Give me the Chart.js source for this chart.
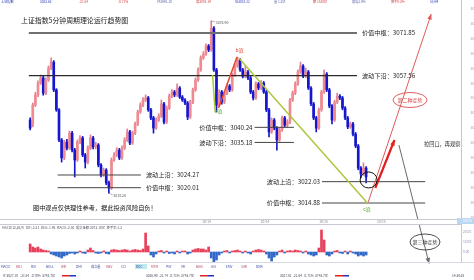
<!DOCTYPE html>
<html><head><meta charset="utf-8">
<script src="https://cdn.jsdelivr.net/npm/chart.js@4.4.1/dist/chart.umd.min.js"></script>
<style>
html,body{margin:0;padding:0;background:#fff;}
#wrap{position:relative;width:474px;height:280px;overflow:hidden;}
canvas{display:block;}
</style></head><body>
<div id="wrap"><canvas id="c" width="474" height="280"></canvas></div>
<script>
// 5分钟K线（价格读自截图）
const opens = [3042.7,3041.0,3047.7,3051.1,3055.1,3056.8,3051.7,3056.1,3060.1,3062.1,
3052.8,3046.1,3036.0,3030.0,3035.3,3033.3,3038.3,3032.6,3029.3,3035.3,
3036.7,3031.0,3028.6,3033.3,3036.7,3033.7,3034.3,3027.6,3024.3,3025.9,
3021.6,3019.9,3029.3,3031.0,3032.6,3030.0,3033.3,3036.0,3038.7,3035.0,
3038.3,3041.4,3045.4,3047.7,3049.4,3050.1,3046.1,3043.4,3040.0,3042.7,
3044.0,3048.1,3042.0,3046.7,3050.7,3052.1,3051.1,3053.4,3050.4,3049.4,
3048.4,3043.7,3048.7,3052.8,3056.1,3059.5,3063.5,3064.8,3067.5,3066.2,
3073.5,3059.5,3047.7,3052.1,3048.7,3051.7,3054.1,3052.8,3057.8,3060.8,
3062.8,3059.5,3057.4,3058.8,3056.8,3052.1,3050.1,3054.8,3053.4,3055.1,
3052.1,3046.1,3038.7,3042.7,3040.0,3036.0,3039.4,3043.4,3041.0,3042.0,
3049.4,3051.7,3054.8,3058.8,3060.8,3057.4,3058.8,3053.4,3048.1,3043.4,
3040.0,3046.1,3052.1,3058.1,3052.8,3047.4,3042.7,3048.7,3050.7,3050.1,
3046.7,3043.4,3040.4,3041.4,3038.0,3034.0,3026.6,3024.6,3026.6];
const closes = [3040.0,3047.7,3051.1,3055.1,3056.8,3051.7,3056.1,3060.1,3062.1,3052.8,
3046.1,3036.0,3030.0,3035.3,3033.3,3038.3,3032.6,3029.3,3035.3,3036.7,
3031.0,3028.6,3033.3,3036.7,3033.7,3034.3,3027.6,3024.3,3025.9,3021.6,
3019.9,3029.3,3031.0,3032.6,3030.0,3033.3,3036.0,3038.7,3035.0,3038.3,
3041.4,3045.4,3047.7,3049.4,3050.1,3046.1,3043.4,3040.0,3042.7,3044.0,
3048.1,3042.0,3046.7,3050.7,3052.1,3051.1,3053.4,3050.4,3049.4,3048.4,
3043.7,3048.7,3052.8,3056.1,3059.5,3063.5,3064.8,3067.5,3066.2,3073.5,
3059.5,3047.7,3052.1,3048.7,3051.7,3054.1,3052.8,3057.8,3060.8,3062.8,
3059.5,3057.4,3058.8,3056.8,3052.1,3050.1,3054.8,3053.4,3055.1,3052.1,
3046.1,3038.7,3042.7,3040.0,3036.0,3039.4,3043.4,3041.0,3042.0,3049.4,
3051.7,3054.8,3058.8,3060.8,3057.4,3058.8,3053.4,3048.1,3043.4,3040.0,
3046.1,3052.1,3058.1,3052.8,3047.4,3042.7,3048.7,3050.7,3050.1,3046.7,
3043.4,3040.4,3041.4,3038.0,3034.0,3026.6,3024.6,3026.6,3023.6];
const highs = [3043.4,3048.4,3052.0,3055.8,3057.8,3057.4,3056.8,3060.8,3063.5,3062.6,
3053.2,3046.5,3036.5,3035.9,3036.2,3039.0,3038.9,3033.2,3036.0,3037.5,
3037.2,3031.5,3034.0,3037.7,3037.2,3035.2,3034.8,3028.1,3026.6,3026.4,
3022.2,3030.0,3031.8,3033.4,3033.2,3034.0,3036.8,3039.7,3039.2,3039.0,
3042.0,3046.0,3048.5,3050.2,3051.1,3050.6,3046.6,3043.9,3043.4,3044.8,
3049.4,3048.6,3047.4,3051.4,3052.9,3052.6,3054.8,3053.9,3050.9,3049.9,
3048.9,3049.3,3053.4,3056.8,3060.2,3064.2,3065.6,3068.2,3068.0,3075.9,
3074.0,3060.0,3052.8,3052.6,3052.4,3054.8,3054.6,3058.4,3061.5,3063.8,
3063.3,3060.0,3060.8,3059.3,3057.3,3052.6,3055.5,3055.3,3055.9,3055.6,
3052.6,3046.6,3043.4,3043.2,3040.5,3040.0,3044.0,3043.9,3042.8,3050.0,
3052.4,3055.5,3059.5,3062.1,3061.3,3060.1,3059.3,3053.9,3048.6,3043.9,
3046.7,3052.7,3059.5,3058.6,3053.3,3047.9,3049.3,3051.7,3051.2,3050.6,
3047.2,3043.9,3042.0,3041.9,3038.5,3034.5,3027.1,3028.3,3027.1];
const lows = [3039.4,3040.4,3047.2,3050.5,3054.6,3051.0,3051.2,3055.6,3059.6,3052.2,
3045.6,3035.4,3028.6,3029.4,3032.7,3032.8,3032.0,3023.6,3028.8,3034.8,
3030.4,3026.6,3028.0,3032.8,3033.0,3033.0,3027.0,3023.6,3023.8,3021.0,
3018.2,3019.4,3028.8,3030.4,3029.4,3029.5,3032.8,3035.5,3034.4,3034.5,
3037.8,3040.8,3044.9,3047.2,3048.9,3045.6,3042.8,3038.3,3039.5,3042.2,
3043.5,3041.4,3041.5,3046.2,3050.2,3050.5,3050.6,3049.9,3048.9,3047.8,
3042.8,3043.2,3048.2,3052.3,3055.6,3059.0,3063.0,3064.3,3065.6,3065.7,
3059.0,3045.4,3047.2,3048.0,3048.2,3051.2,3052.2,3052.3,3057.3,3060.3,
3059.0,3056.8,3056.9,3056.2,3051.5,3049.4,3049.6,3052.8,3052.9,3051.6,
3045.5,3037.0,3038.2,3039.4,3032.6,3035.5,3038.9,3040.4,3040.4,3041.5,
3048.9,3051.2,3054.3,3058.3,3056.9,3056.9,3052.9,3047.5,3042.8,3038.7,
3039.5,3045.6,3051.6,3052.2,3046.8,3041.4,3042.2,3048.2,3049.5,3046.1,
3042.8,3039.8,3039.9,3037.4,3033.4,3026.0,3023.3,3024.1,3021.6];
// 副图柱（红正蓝负）
const macd = [8,5,4,5,3,2,1.5,1,-2,-3,
-4,-5,-6,-4,-3,-1.5,-1,-2,-1,1,
-1,-1.5,2,4,1.5,-1,-1.5,-1,1,-1.5,
-2,2,2.5,2,1.5,2,2.5,2,1,2,
2.5,2,1.5,3,19,6,-3,-5,-2,1,
1.5,-1,1,-1.5,-1,-2,1,-1,1,1,
-2,-1,2,3,3.5,3,3,2,5,-6,
-10,-8,-3,-1,1,1.5,-1,1,1.5,2,
1,-1,1,-1,-2,1,2,2.5,2,1,
-2,-6,-9,-5,-3,1,2,-1,1,1.5,
1,2,1.5,1,-1,1,-2,-3,-4,-3,
4,22,12,-3,-4,-2,1,1.5,-1,-1.5,
1,-2,1,-1,-2,-4,-3,-4,-3];
const priceTicks = [3010,3015,3020,3025,3030,3035,3040,3045,3050,3055,3060,3065,3070,3075,3080];
const volTicks = [20,10,0];
const dateTicks = [67.2, 89.5, 111.8, 133.8];
const dateLabels = ["10/14","10/14","10/15","10/15"];

// 关键位
const levelNames  = ["价值中枢","波动下沿","价值中枢","波动下沿","波动上沿","价值中枢","波动上沿","价值中枢"];
const levelValues = [3071.85, 3057.56, 3040.24, 3035.18, 3024.27, 3020.01, 3022.03, 3014.88];
const levelSpans  = [[-0.5,124.5],[-0.5,124.5],[85.5,100.5],[85.5,100.5],[10.5,42.2],[10.5,42.2],[111.2,150.5],[111.2,150.5]];
const labelSide   = ["end","end","start","start","end","end","start","start"];

// 波浪连线 [索引, 价格]
const peakToA = [[69.5,3057.8],[70.5,3045.4]];
const aToB    = [[71.8,3046.7],[78.8,3063.8]];
const bToC    = [[79.5,3063.5],[128.5,3014.88]];
const cUp     = [[128.8,3015.2],[152.8,3078.2]];
const bounce  = [[131.5,3019.9],[138.8,3036.0]];
const third   = [[140.5,3034.3],[152.0,2994.6]];
const waveLabels = [["a浪",71.8,3045.6,"#5aa82a"],["b浪",79.8,3066.0,"#e04a3a"],["c浪",128.3,3012.8,"#5aa82a"]];

const F = '"Noto Sans CJK SC","Noto Sans",sans-serif';
const UP = "#ef8a8e", DOWN = "#1616cc";
const isUp = closes.map((c, i) => c >= opens[i]);
const pts = a => a.map(p => ({x: p[0], y: p[1]}));

const datasets = [
  {type:"bar", data: closes.map((_, i) => ({x:i, y:[lows[i], highs[i]]})), yAxisID:"y",
   barThickness:1, grouped:false, order:6,
   backgroundColor: isUp.map(u => u ? "#dd7f96" : DOWN)},
  {type:"bar", data: closes.map((c, i) => ({x:i, y:[opens[i], c]})), yAxisID:"y",
   barThickness:2, grouped:false, minBarLength:1, order:5,
   backgroundColor: isUp.map(u => u ? UP : DOWN)},
  {type:"bar", data: macd.map((v, i) => ({x:i, y:v})), yAxisID:"yv",
   barThickness:2, grouped:false, order:5,
   backgroundColor: macd.map(v => v >= 0 ? "#e8405a" : "#2f68c8")},
];
levelValues.forEach((v, k) => {
  datasets.push({type:"line", yAxisID:"y", order:3, pointRadius:0,
    data:[{x:levelSpans[k][0], y:v}, {x:levelSpans[k][1], y:v}],
    borderColor: k === 0 ? "#707070" : (k === 1 ? "#2a2a2a" : "#444"),
    borderWidth: k === 0 ? 2 : (k === 1 ? 1.3 : 1)});
});
const wave = (d, color, w, arrow) => ({type:"line", yAxisID:"y", order:1, pointRadius:0,
  data: pts(d), borderColor: color, borderWidth: w, arrowHead: arrow, clip: false});
datasets.push(wave(peakToA, "#a9c93a", 1.5));
datasets.push(wave(aToB, "#e8452f", 1.5));
datasets.push(wave(bToC, "#abc93c", 1.5));
datasets.push(wave(cUp, "#e05a5a", 1, 6));
datasets.push(wave(bounce, "#e01f1f", 2.2, 6));
datasets.push(wave(third, "#6a6a6a", 1, 6));

function txt(ctx, s, x, y, size, color, align) {
  ctx.font = size + "px " + F;
  ctx.fillStyle = color;
  ctx.textAlign = align || "left";
  ctx.textBaseline = "middle";
  ctx.fillText(s, x, y);
}

const overlay = {
  id: "overlay",
  afterDatasetsDraw(chart) {
    const {ctx, scales} = chart;
    const x = scales.x, y = scales.y, yv = scales.yv;
    const right = chart.chartArea.right;
    ctx.save();
    // 箭头
    chart.data.datasets.forEach((ds, di) => {
      if (!ds.arrowHead) return;
      const m = chart.getDatasetMeta(di).data;
      const p1 = m[m.length - 2], p2 = m[m.length - 1];
      const a = Math.atan2(p2.y - p1.y, p2.x - p1.x), L = ds.arrowHead;
      ctx.beginPath();
      ctx.moveTo(p2.x, p2.y);
      ctx.lineTo(p2.x - L * Math.cos(a - 0.4), p2.y - L * Math.sin(a - 0.4));
      ctx.lineTo(p2.x - L * Math.cos(a + 0.4), p2.y - L * Math.sin(a + 0.4));
      ctx.closePath();
      ctx.fillStyle = ds.borderColor;
      ctx.fill();
    });
    // 关键位标签
    levelValues.forEach((v, k) => {
      const s = levelNames[k] + "：" + v.toFixed(2);
      const py = y.getPixelForValue(v);
      if (labelSide[k] === "end") txt(ctx, s, x.getPixelForValue(levelSpans[k][1]) + 5, py, 6.2, "#1e1e1e", "left");
      else txt(ctx, s, x.getPixelForValue(levelSpans[k][0]) - 2, py, 6.2, "#1e1e1e", "right");
    });
    waveLabels.forEach(w => txt(ctx, w[0], x.getPixelForValue(w[1]), y.getPixelForValue(w[2]), 5, w[3], "center"));
    // 最高/最低标注
    const hi = Math.max(...highs), lo = Math.min(...lows);
    const hiI = highs.indexOf(hi), loI = lows.indexOf(lo);
    ctx.strokeStyle = "#888"; ctx.lineWidth = 0.6;
    let hx = x.getPixelForValue(hiI), hy = y.getPixelForValue(hi);
    ctx.beginPath(); ctx.moveTo(hx, hy); ctx.lineTo(hx + 4, hy + 1); ctx.stroke();
    txt(ctx, hi.toFixed(2), hx + 4.5, hy + 1.5, 3.5, "#555", "left");
    let lx = x.getPixelForValue(loI), ly = y.getPixelForValue(lo);
    ctx.beginPath(); ctx.moveTo(lx, ly); ctx.lineTo(lx + 4, ly + 2); ctx.stroke();
    txt(ctx, lo.toFixed(2), lx + 4.5, ly + 2.5, 3.5, "#555", "left");
    // 最后K线圈
    const last = closes.length - 1;
    ctx.strokeStyle = "#111"; ctx.lineWidth = 1;
    ctx.beginPath();
    ctx.ellipse(x.getPixelForValue(last) + 2.5, y.getPixelForValue(3022.6), 8.5, 8, 0, 0, Math.PI * 2);
    ctx.stroke();
    // 走势椭圆
    ctx.strokeStyle = "#d83a3a"; ctx.lineWidth = 0.8;
    ctx.beginPath(); ctx.ellipse(410, 100, 17, 7.5, 0, 0, Math.PI * 2); ctx.stroke();
    txt(ctx, "第二种走势", 410, 100, 5, "#d83a3a", "center");
    ctx.strokeStyle = "#222";
    ctx.beginPath(); ctx.ellipse(425, 242, 15, 8, 0, 0, Math.PI * 2); ctx.stroke();
    txt(ctx, "第三种走势", 425, 242, 5, "#333", "center");
    txt(ctx, "拉回口，再观察", 424, 144, 5.2, "#222", "left");
    // 标题与声明
    txt(ctx, "上证指数5分钟周期理论运行趋势图", 21, 20, 6.9, "#222", "left");
    txt(ctx, "图中观点仅供理性参考，据此投资风险自负！", 33, 208, 6.2, "#111", "left");
    // 日期带
    const bandY = 219;
    ctx.fillStyle = "#fff"; ctx.fillRect(0, bandY, right, 5);
    ctx.strokeStyle = "#c9c9d2"; ctx.lineWidth = 1;
    ctx.beginPath(); ctx.moveTo(0, bandY + 0.5); ctx.lineTo(right, bandY + 0.5); ctx.stroke();
    ctx.beginPath(); ctx.moveTo(0, 224.5); ctx.lineTo(right, 224.5); ctx.stroke();
    dateTicks.forEach((t, i) => txt(ctx, dateLabels[i], x.getPixelForValue(t), 221.8, 3.3, "#888", "center"));
    ctx.fillStyle = "#bcd7f2"; ctx.fillRect(right - 4, 218, 474 - right + 4, 6);
    txt(ctx, "10/15", right + 2, 221, 3.3, "#fff", "left");
    // 副图图例
    txt(ctx, "MACD(12,26,9)  DIF:-3.21  DEA:-1.96  MACD:-2.50  成交金额:3072.10亿  换手率:1.2", 2, 227.5, 3.3, "#556", "left");
    // 副图刻度
    ctx.strokeStyle = "#d8d8e0";
    ctx.beginPath(); ctx.moveTo(0, 262.5); ctx.lineTo(474, 262.5); ctx.stroke();
    volTicks.forEach(v => txt(ctx, v.toFixed(2), right + 2, yv.getPixelForValue(v), 3.3, "#9a94b8", "left"));
    // 顶部与底部工具栏
    const topItems = [["上证指数", "#2233aa"], ["3023.62", "#3344bb"], ["-21.54", "#d04040"], ["-0.71%", "#d04040"],
      ["开3045.10", "#5566aa"], ["高3076.19", "#d04040"], ["低3018.22", "#3344bb"], ["量 1.2亿", "#5566aa"],
      ["额 1520亿", "#d04040"], ["振幅1.9%", "#5566aa"], ["换手0.3%", "#d04040"], ["5分钟", "#3344bb"]];
    let tx = 1;
    topItems.forEach(it => { txt(ctx, it[0], tx, 2, 3.2, it[1], "left"); tx += 39; });
    const botItems = ["MACD", "KDJ", "RSI", "BOLL", "WR", "DMI", "成交量", "OBV", "CCI", "ROC", "MTM", "PSY", "VR", "BIAS", "ASI", "EMV", "SAR", "DMA"];
    tx = 1;
    botItems.forEach((s, i) => {
      if (i === 9) { ctx.fillStyle = "#bfeaf0"; ctx.fillRect(tx - 1, 264, 12, 5); }
      txt(ctx, s, tx, 266.5, 3.2, i % 3 === 1 ? "#b04060" : "#3a4aa0", "left"); tx += 15;
    });
    txt(ctx, "IF 3027.10   -21.54  -0.70%  3743.7亿", 3, 276, 3.2, "#445", "left");
    ctx.fillStyle = "#e02020"; ctx.fillRect(62, 275, 8, 1.5);
    ctx.fillStyle = "#2030c0"; ctx.fillRect(70, 275, 6, 1.5);
    txt(ctx, "3026.90  -21.74  -0.71%  3743.7亿", 146, 276, 3.2, "#445", "left");
    ctx.fillStyle = "#e02020"; ctx.fillRect(200, 275, 8, 1.5);
    ctx.fillStyle = "#2030c0"; ctx.fillRect(208, 275, 6, 1.5);
    txt(ctx, "3027.01  -21.64  -0.71%  3743.7亿", 280, 276, 3.2, "#445", "left");
    ctx.fillStyle = "#e02020"; ctx.fillRect(335, 275, 8, 1.5);
    ctx.fillStyle = "#2030c0"; ctx.fillRect(343, 275, 6, 1.5);
    txt(ctx, "14:30:25", 452, 276, 3.2, "#445", "left");
    ctx.restore();
  }
};

new Chart(document.getElementById("c"), {
  type: "bar",
  data: { datasets },
  plugins: [overlay],
  options: {
    responsive: false,
    animation: false,
    events: [],
    layout: { padding: { top: 0, left: 0, right: 0, bottom: 18 } },
    plugins: { legend: { display: false }, tooltip: { enabled: false } },
    scales: {
      x: { type: "linear", min: -0.5, max: 153.17, display: false },
      y: {
        position: "right", min: 2995.11, max: 3082.91,
        grid: { display: false },
        border: { display: true, color: "#c9c3e0" },
        afterBuildTicks: s => { s.ticks = priceTicks.map(v => ({ value: v })); },
        afterFit: s => { s.width = 13; s.paddingTop = 0; s.paddingBottom = 0; },
        ticks: { font: { size: 3.4, family: F }, color: "#9a94b8", padding: 1.5,
          callback: v => v.toFixed(2) }
      },
      yv: { position: "right", min: -10, max: 252, display: false }
    }
  }
});
</script></body></html>
